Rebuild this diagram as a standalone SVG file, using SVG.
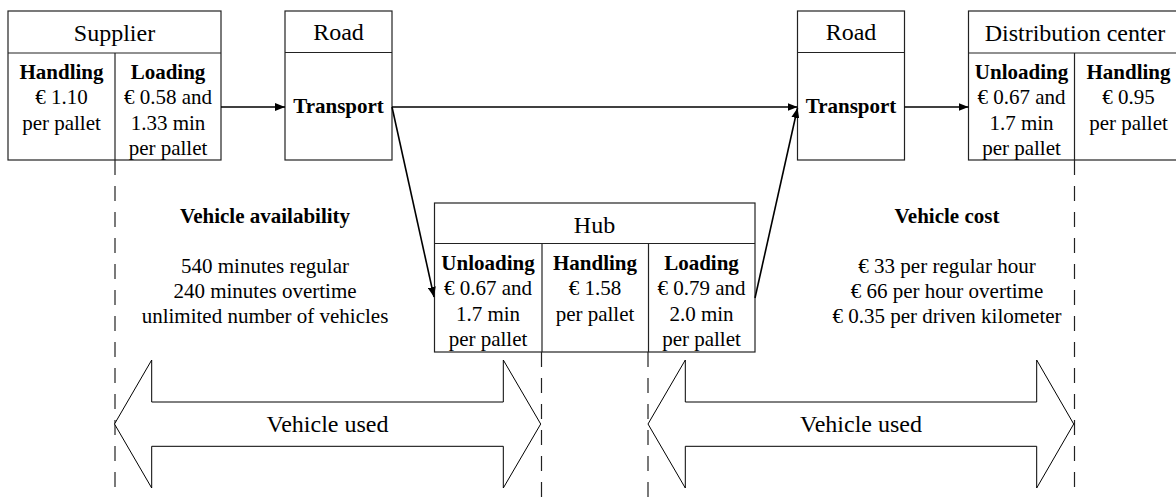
<svg xmlns="http://www.w3.org/2000/svg" width="1176" height="498" viewBox="0 0 1176 498">
<style>
.box{fill:#fff;stroke:#222;stroke-width:1.2}
.ln{fill:none;stroke:#222;stroke-width:1.2}
.dash{fill:none;stroke:#222;stroke-width:1.2;stroke-dasharray:15 11}
.conn{fill:none;stroke:#000;stroke-width:1.6}
.big{fill:#000;stroke:#000;stroke-width:1}
.dbl{fill:#fff;stroke:#000;stroke-width:1}
text{font-family:"Liberation Serif","Times New Roman",serif;fill:#000;text-anchor:middle}
.h{font-size:24px}
.t{font-size:21px}
.b{font-size:21px;font-weight:bold}
</style>
<defs>
<marker id="ah" viewBox="0 0 10 8" refX="10" refY="4" markerWidth="10" markerHeight="8" markerUnits="userSpaceOnUse" orient="auto">
<path d="M0,0 L10,4 L0,8 z" fill="#000"/>
</marker>
</defs>

<g id="guides">
<line class="dash" x1="115" y1="160" x2="115" y2="498"/>
<line class="dash" x1="541.5" y1="352" x2="541.5" y2="498"/>
<line class="dash" x1="648" y1="352" x2="648" y2="498"/>
<line class="dash" x1="1074.5" y1="160" x2="1074.5" y2="498"/>
</g>

<g id="supplier">
<rect class="box" x="8" y="11" width="213" height="149"/>
<line class="ln" x1="8" y1="53" x2="221" y2="53"/>
<line class="ln" x1="115" y1="53" x2="115" y2="160"/>
<text class="h" x="114.5" y="41">Supplier</text>
<text class="b" x="61.5" y="79">Handling</text>
<text class="t" x="61.5" y="104.3">€ 1.10</text>
<text class="t" x="61.5" y="129.6">per pallet</text>
<text class="b" x="168" y="79">Loading</text>
<text class="t" x="168" y="104.3">€ 0.58 and</text>
<text class="t" x="168" y="129.6">1.33 min</text>
<text class="t" x="168" y="155">per pallet</text>
</g>

<g id="road1">
<rect class="box" x="285" y="11" width="107" height="149"/>
<line class="ln" x1="285" y1="52.5" x2="392" y2="52.5"/>
<text class="h" x="338.5" y="40">Road</text>
<text class="b" x="338.5" y="113">Transport</text>
</g>

<g id="road2">
<rect class="box" x="797.5" y="11" width="107" height="149"/>
<line class="ln" x1="797.5" y1="52.5" x2="904.5" y2="52.5"/>
<text class="h" x="851" y="40">Road</text>
<text class="b" x="851" y="113">Transport</text>
</g>

<g id="distribution-center">
<rect class="box" x="968.5" y="11" width="214" height="149"/>
<line class="ln" x1="968.5" y1="53" x2="1182" y2="53"/>
<line class="ln" x1="1074.5" y1="53" x2="1074.5" y2="160"/>
<text class="h" x="1075" y="41">Distribution center</text>
<text class="b" x="1021.5" y="79">Unloading</text>
<text class="t" x="1021.5" y="104.3">€ 0.67 and</text>
<text class="t" x="1021.5" y="129.6">1.7 min</text>
<text class="t" x="1021.5" y="155">per pallet</text>
<text class="b" x="1128.5" y="79">Handling</text>
<text class="t" x="1128.5" y="104.3">€ 0.95</text>
<text class="t" x="1128.5" y="129.6">per pallet</text>
</g>

<g id="hub">
<rect class="box" x="434.5" y="203" width="320.5" height="149"/>
<line class="ln" x1="434.5" y1="243.5" x2="755" y2="243.5"/>
<line class="ln" x1="542" y1="243.5" x2="542" y2="352"/>
<line class="ln" x1="648.5" y1="243.5" x2="648.5" y2="352"/>
<text class="h" x="594.5" y="233">Hub</text>
<text class="b" x="488" y="270">Unloading</text>
<text class="t" x="488" y="295.3">€ 0.67 and</text>
<text class="t" x="488" y="320.6">1.7 min</text>
<text class="t" x="488" y="346">per pallet</text>
<text class="b" x="595" y="270">Handling</text>
<text class="t" x="595" y="295.3">€ 1.58</text>
<text class="t" x="595" y="320.6">per pallet</text>
<text class="b" x="701.5" y="270">Loading</text>
<text class="t" x="701.5" y="295.3">€ 0.79 and</text>
<text class="t" x="701.5" y="320.6">2.0 min</text>
<text class="t" x="701.5" y="346">per pallet</text>
</g>

<g id="connectors">
<line class="conn" x1="221" y1="107" x2="285" y2="107" marker-end="url(#ah)"/>
<line class="conn" x1="392" y1="107" x2="797.5" y2="107" marker-end="url(#ah)"/>
<line class="conn" x1="392" y1="107" x2="434" y2="297" marker-end="url(#ah)"/>
<line class="conn" x1="755" y1="298" x2="797.5" y2="108" marker-end="url(#ah)"/>
<line class="conn" x1="904.5" y1="107" x2="968.5" y2="107" marker-end="url(#ah)"/>
</g>

<g id="vehicle-availability">
<text class="b" x="265" y="223">Vehicle availability</text>
<text class="t" x="265" y="273">540 minutes regular</text>
<text class="t" x="265" y="298">240 minutes overtime</text>
<text class="t" x="265" y="323">unlimited number of vehicles</text>
</g>

<g id="vehicle-cost">
<text class="b" x="947" y="223">Vehicle cost</text>
<text class="t" x="947" y="273">€ 33 per regular hour</text>
<text class="t" x="947" y="298">€ 66 per hour overtime</text>
<text class="t" x="947" y="323">€ 0.35 per driven kilometer</text>
</g>

<g id="vehicle-used-1">
<path class="dbl" d="M114.5,424 L151.7,360 L151.7,402 L503.3,402 L503.3,360 L540.7,424 L503.3,488 L503.3,446.3 L151.7,446.3 L151.7,488 Z"/>
<text class="h" x="327.5" y="432">Vehicle used</text>
</g>

<g id="vehicle-used-2">
<path class="dbl" d="M648,424 L685.3,360 L685.3,402 L1036.7,402 L1036.7,360 L1073.7,424 L1036.7,488 L1036.7,446.3 L685.3,446.3 L685.3,488 Z"/>
<text class="h" x="861" y="432">Vehicle used</text>
</g>
</svg>
